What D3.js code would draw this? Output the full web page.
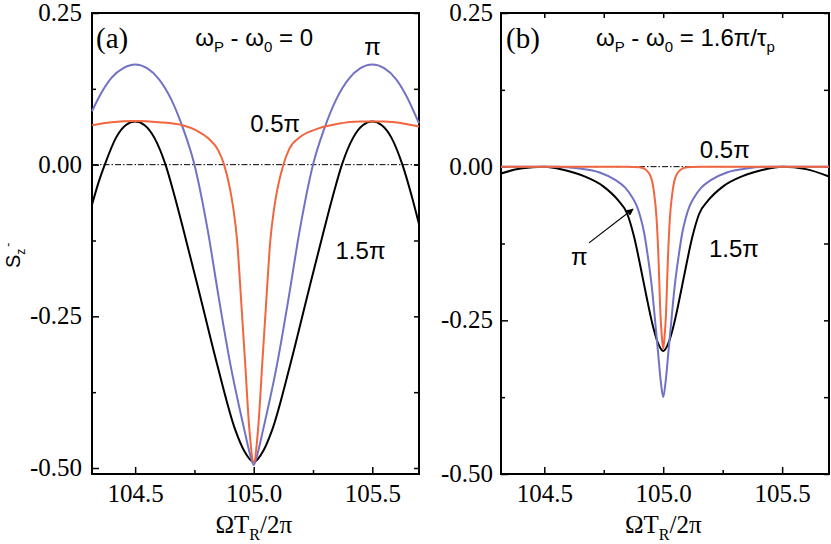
<!DOCTYPE html>
<html>
<head>
<meta charset="utf-8">
<script src="https://cdn.jsdelivr.net/npm/d3@7"></script>
<style>
  body { margin: 0; background: #fff; }
  svg { display: block; }
</style>
</head>
<body>
<div id="chart"></div>
<script>
/* CONSTANTS AND GLOBALS */
const width = 831,
      height = 544;

/* DATA */
const xDomain = [104.318, 105.697];
const yDomain = [0.25, -0.5];
const xTicks = [104.5, 105.0, 105.5];
const xMinor = [104.75, 105.25];
const yTicks = [0.25, 0.0, -0.25, -0.5];
const yMinor = [0.125, -0.125, -0.375];

// panel (a): omega_P - omega_0 = 0
const aHalfPi = [
  [104.318, 0.065], [104.40, 0.070], [104.50, 0.072], [104.60, 0.070], [104.70, 0.065],
  [104.76, 0.056], [104.81, 0.043], [104.85, 0.024], [104.875, 0.0], [104.90, -0.040],
  [104.915, -0.075], [104.93, -0.125], [104.946, -0.218], [104.964, -0.328], [104.982, -0.438],
  [105.0, -0.490],
  [105.018, -0.438], [105.036, -0.328], [105.054, -0.218], [105.07, -0.125], [105.085, -0.075],
  [105.10, -0.040], [105.125, 0.0], [105.15, 0.026], [105.197, 0.046], [105.268, 0.059],
  [105.35, 0.067], [105.45, 0.071], [105.55, 0.071], [105.63, 0.068], [105.697, 0.063]
];
const aPi = [
  [104.318, 0.088], [104.36, 0.120], [104.40, 0.143], [104.45, 0.159], [104.50, 0.165],
  [104.55, 0.159], [104.60, 0.141], [104.654, 0.106], [104.70, 0.062], [104.75, 0.0],
  [104.806, -0.108], [104.852, -0.218], [104.901, -0.328], [104.961, -0.438], [104.985, -0.478],
  [105.0, -0.495],
  [105.015, -0.478], [105.039, -0.438], [105.099, -0.328], [105.148, -0.218], [105.194, -0.108],
  [105.25, 0.0], [105.30, 0.062], [105.346, 0.106], [105.40, 0.141], [105.45, 0.159],
  [105.50, 0.165], [105.55, 0.159], [105.60, 0.141], [105.64, 0.116], [105.697, 0.068]
];
const aThreeHalfPi = [
  [104.318, -0.066], [104.345, -0.030], [104.372, 0.0], [104.42, 0.045], [104.46, 0.065],
  [104.50, 0.071], [104.54, 0.065], [104.58, 0.045], [104.628, 0.0], [104.665, -0.050],
  [104.704, -0.108], [104.775, -0.218], [104.845, -0.328], [104.923, -0.438], [104.96, -0.472],
  [105.0, -0.490],
  [105.04, -0.472], [105.077, -0.438], [105.155, -0.328], [105.225, -0.218], [105.296, -0.108],
  [105.335, -0.050], [105.372, 0.0], [105.42, 0.045], [105.46, 0.065], [105.50, 0.071],
  [105.54, 0.065], [105.58, 0.045], [105.627, 0.0], [105.665, -0.050], [105.697, -0.098]
];

// panel (b): omega_P - omega_0 = 1.6 pi / tau_p
const bHalfPi = [
  [104.318, 0.0], [104.60, 0.0], [104.85, 0.0], [104.90, -0.001], [104.927, -0.005],
  [104.95, -0.019], [104.961, -0.041], [104.972, -0.084], [104.979, -0.138], [104.989, -0.245],
  [104.994, -0.275], [105.0, -0.296],
  [105.006, -0.275], [105.011, -0.245], [105.021, -0.138], [105.028, -0.084], [105.039, -0.041],
  [105.05, -0.019], [105.073, -0.005], [105.10, -0.001], [105.15, 0.0], [105.40, 0.0],
  [105.697, 0.0]
];
const bPi = [
  [104.318, 0.0], [104.50, 0.0], [104.55, 0.0], [104.65, -0.003], [104.73, -0.009],
  [104.80, -0.022], [104.84, -0.034], [104.87, -0.050], [104.89, -0.065], [104.905, -0.083],
  [104.92, -0.108], [104.935, -0.145], [104.951, -0.192], [104.965, -0.247], [104.978, -0.301],
  [104.99, -0.350], [105.0, -0.375],
  [105.01, -0.350], [105.022, -0.301], [105.035, -0.247], [105.049, -0.192], [105.065, -0.145],
  [105.08, -0.108], [105.095, -0.083], [105.11, -0.065], [105.13, -0.050], [105.16, -0.034],
  [105.20, -0.022], [105.27, -0.009], [105.35, -0.003], [105.45, 0.0], [105.697, 0.0]
];
const bThreeHalfPi = [
  [104.318, -0.011], [104.40, -0.003], [104.50, 0.0], [104.58, -0.005], [104.664, -0.015],
  [104.748, -0.032], [104.811, -0.055], [104.849, -0.077], [104.878, -0.115], [104.903, -0.160],
  [104.929, -0.210], [104.954, -0.255], [104.979, -0.288], [105.0, -0.300],
  [105.021, -0.288], [105.046, -0.255], [105.071, -0.210], [105.097, -0.160], [105.122, -0.115],
  [105.151, -0.077], [105.189, -0.055], [105.252, -0.032], [105.336, -0.015], [105.42, -0.005],
  [105.50, 0.0], [105.60, -0.004], [105.697, -0.016]
];

const blue = "#7272c4",
      red = "#f2653f",
      serif = "'Liberation Serif', 'DejaVu Serif', serif",
      sans = "'Liberation Sans', Arial, sans-serif";

/* APPEND SVG */
const svg = d3.select("#chart")
  .append("svg")
    .attr("width", width)
    .attr("height", height);

svg.append("defs").append("marker")
    .attr("id", "arrow")
    .attr("viewBox", "0 0 10 10")
    .attr("refX", 9)
    .attr("refY", 5)
    .attr("markerWidth", 10)
    .attr("markerHeight", 7)
    .attr("markerUnits", "userSpaceOnUse")
    .attr("orient", "auto")
  .append("path")
    .attr("d", "M0,0 L10,5 L0,10 Z")
    .attr("fill", "#000");

/* ONE PANEL */
function panel(opt) {
  const x = d3.scaleLinear().domain(xDomain).range([opt.left, opt.right]);
  const y = d3.scaleLinear().domain(yDomain).range([opt.top, opt.yBottom]);
  const g = svg.append("g");

  const tickStyle = sel => {
    sel.attr("font-family", serif).attr("font-size", 25);
    sel.select(".domain").remove();
    sel.selectAll(".tick line").attr("stroke", "#000").attr("stroke-width", 1.5);
    sel.selectAll(".tick text")
      .attr("fill", "#000")
      .attr("font-family", serif)
      .attr("font-size", 25);
  };

  // bottom axis
  g.append("g")
    .attr("transform", `translate(0,${opt.bottom})`)
    .call(d3.axisBottom(x).tickValues(xTicks).tickSizeInner(-7).tickSizeOuter(0)
      .tickPadding(10).tickFormat(d => d.toFixed(1)))
    .call(tickStyle);
  g.append("g")
    .attr("transform", `translate(0,${opt.bottom})`)
    .call(d3.axisBottom(x).tickValues(xMinor).tickSizeInner(-4).tickSizeOuter(0).tickFormat(""))
    .call(tickStyle);

  // left axis
  g.append("g")
    .attr("transform", `translate(${opt.left},0)`)
    .call(d3.axisLeft(y).tickValues(yTicks).tickSizeInner(-7).tickSizeOuter(0)
      .tickPadding(opt.yPad).tickFormat(d => d.toFixed(2)))
    .call(tickStyle)
    .selectAll(".tick text").attr("dy", "0.3em");
  g.append("g")
    .attr("transform", `translate(${opt.left},0)`)
    .call(d3.axisLeft(y).tickValues(yMinor).tickSizeInner(-4).tickSizeOuter(0).tickFormat(""))
    .call(tickStyle);

  // right axis, ticks only
  g.append("g")
    .attr("transform", `translate(${opt.right},0)`)
    .call(d3.axisRight(y).tickValues(yTicks.concat(yMinor)).tickSizeInner(-5).tickSizeOuter(0).tickFormat(""))
    .call(tickStyle);

  // top axis, ticks only
  if (opt.topTicks) {
    g.append("g")
      .attr("transform", `translate(0,${opt.top})`)
      .call(d3.axisTop(x).tickValues(xTicks.concat(xMinor)).tickSizeInner(-5).tickSizeOuter(0).tickFormat(""))
      .call(tickStyle);
  }

  // frame
  g.append("rect")
    .attr("x", opt.left)
    .attr("y", opt.top)
    .attr("width", opt.right - opt.left)
    .attr("height", opt.bottom - opt.top)
    .attr("fill", "none")
    .attr("stroke", "#000")
    .attr("stroke-width", 2);

  // zero reference line
  g.append("line")
    .attr("x1", x(xDomain[0]))
    .attr("x2", x(xDomain[1]))
    .attr("y1", y(0))
    .attr("y2", y(0))
    .attr("stroke", "#000")
    .attr("stroke-width", 1)
    .attr("stroke-dasharray", "6,2,1.5,2");

  // curves
  const line = d3.line()
    .x(d => x(d[0]))
    .y(d => y(d[1]))
    .curve(d3.curveMonotoneX);

  g.selectAll("path.curve")
    .data(opt.series)
    .join("path")
      .attr("class", "curve")
      .attr("d", d => line(d.values))
      .attr("fill", "none")
      .attr("stroke", d => d.color)
      .attr("stroke-width", 2);

  // x axis title
  const xt = g.append("text")
    .attr("x", x(105.0))
    .attr("y", 533)
    .attr("text-anchor", "middle")
    .attr("font-family", serif)
    .attr("font-size", 25);
  xt.append("tspan").text("ΩT");
  xt.append("tspan").attr("dy", 7).attr("font-size", 16).text("R");
  xt.append("tspan").attr("dy", -7).text("/2π");

  // panel letter
  g.append("text")
    .attr("x", x(opt.letterAt[0]))
    .attr("y", y(opt.letterAt[1]))
    .attr("font-family", serif)
    .attr("font-size", 29)
    .text(opt.letter);

  // condition title
  const tt = g.append("text")
    .attr("x", x(opt.titleAt[0]))
    .attr("y", y(opt.titleAt[1]))
    .attr("font-family", sans)
    .attr("font-size", 24);
  tt.append("tspan").text("ω");
  tt.append("tspan").attr("dy", 6).attr("font-size", 15).text("P");
  tt.append("tspan").attr("dy", -6).text(" - ω");
  tt.append("tspan").attr("dy", 6).attr("font-size", 15).text("0");
  tt.append("tspan").attr("dy", -6).text(opt.titleRest);
  if (opt.titleSub) {
    tt.append("tspan").attr("dy", 6).attr("font-size", 15).text(opt.titleSub);
  }

  // curve labels
  g.selectAll("text.lab")
    .data(opt.labels)
    .join("text")
      .attr("class", "lab")
      .attr("x", d => x(d.at[0]))
      .attr("y", d => y(d.at[1]))
      .attr("text-anchor", d => d.anchor || "start")
      .attr("font-family", sans)
      .attr("font-size", 24)
      .text(d => d.text);

  if (opt.arrow) {
    g.append("line")
      .attr("x1", x(opt.arrow[0][0]))
      .attr("y1", y(opt.arrow[0][1]))
      .attr("x2", x(opt.arrow[1][0]))
      .attr("y2", y(opt.arrow[1][1]))
      .attr("stroke", "#000")
      .attr("stroke-width", 1.2)
      .attr("marker-end", "url(#arrow)");
  }
}

panel({
  left: 92, right: 419, top: 13, yBottom: 468, bottom: 474, yPad: 10, topTicks: false,
  series: [
    {values: aThreeHalfPi, color: "#000"},
    {values: aPi, color: blue},
    {values: aHalfPi, color: red}
  ],
  letter: "(a)", letterAt: [104.335, 0.192],
  titleAt: [104.753, 0.196], titleRest: " = 0", titleSub: null,
  labels: [
    {text: "π", at: [105.501, 0.181], anchor: "middle"},
    {text: "0.5π", at: [104.985, 0.054]},
    {text: "1.5π", at: [105.345, -0.155]}
  ],
  arrow: null
});

panel({
  left: 501, right: 829, top: 13, yBottom: 474, bottom: 474, yPad: 8, topTicks: true,
  series: [
    {values: bThreeHalfPi, color: "#000"},
    {values: bPi, color: blue},
    {values: bHalfPi, color: red}
  ],
  letter: "(b)", letterAt: [104.339, 0.193],
  titleAt: [104.717, 0.196], titleRest: " = 1.6π/τ", titleSub: "p",
  labels: [
    {text: "0.5π", at: [105.154, 0.014]},
    {text: "1.5π", at: [105.192, -0.147]},
    {text: "π", at: [104.612, -0.160]}
  ],
  arrow: [[104.688, -0.124], [104.873, -0.069]]
});

/* Y AXIS TITLE */
const yl = svg.append("text")
  .attr("transform", "translate(20,268) rotate(-90)")
  .attr("font-family", sans)
  .attr("font-size", 20);
yl.append("tspan").text("S");
yl.append("tspan").attr("dy", 5).attr("font-size", 12).text("z");
yl.append("tspan").attr("dx", 2).attr("dy", -13).attr("font-size", 12).text("-");
</script>
</body>
</html>
